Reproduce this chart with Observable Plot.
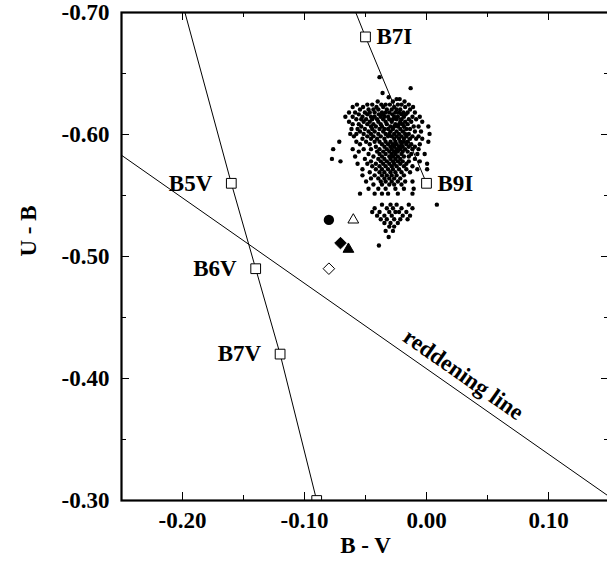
<!DOCTYPE html>
<html><head><meta charset="utf-8">
<script src="https://cdn.jsdelivr.net/npm/d3@7"></script>
<script src="https://cdn.jsdelivr.net/npm/@observablehq/plot@0.6"></script>
<style>body{margin:0;background:#fff}</style>
</head><body><div id="chart"></div>
<script>
// Cluster stars: [U-B, B-V, B-V, ...]
const clusterRows = [
  [-0.647, -0.0385],
  [-0.638, -0.013],
  [-0.634, -0.036],
  [-0.6305, -0.031],
  [-0.629, -0.022, -0.0245],
  [-0.627, -0.040, -0.0275, -0.018],
  [-0.6245, -0.057, -0.0485, -0.0445, -0.037, -0.0335, -0.030, -0.0235, -0.0205, -0.0145],
  [-0.6225, -0.0605, -0.052, -0.041, -0.0355, -0.0265, -0.0175, -0.011],
  [-0.6205, -0.0545, -0.0475, -0.0435, -0.0395, -0.0325, -0.0285, -0.0245, -0.0215, -0.0135],
  [-0.618, -0.0635, -0.0585, -0.0505, -0.0465, -0.0425, -0.0365, -0.0335, -0.0305, -0.0255, -0.0225, -0.019, -0.0155, -0.0095],
  [-0.6165, -0.0555, -0.0485, -0.039, -0.0355, -0.028, -0.0205, -0.017],
  [-0.6145, -0.0665, -0.0605, -0.0525, -0.0455, -0.0425, -0.0375, -0.0345, -0.0315, -0.0265, -0.0235, -0.0185, -0.0115, -0.0055],
  [-0.6125, -0.0575, -0.0535, -0.0495, -0.0445, -0.0405, -0.0355, -0.0305, -0.0275, -0.0245, -0.0205, -0.0145, -0.0085],
  [-0.6105, -0.0635, -0.0515, -0.0465, -0.0395, -0.0335, -0.0285, -0.0215, -0.0175, -0.0125, -0.0035],
  [-0.6085, -0.0605, -0.0555, -0.0485, -0.0435, -0.0375, -0.0325, -0.0255, -0.0225, -0.0195, -0.0155],
  [-0.6065, -0.0535, -0.0455, -0.0415, -0.0365, -0.0295, -0.0265, -0.0235, -0.0185, -0.0105, -0.0065, 0.0015],
  [-0.6045, -0.0615, -0.0565, -0.0505, -0.0445, -0.0385, -0.0345, -0.0315, -0.0275, -0.0215, -0.0165, -0.0135],
  [-0.6025, -0.0545, -0.0475, -0.0425, -0.0355, -0.0295, -0.0245, -0.0195, -0.0095, -0.0045],
  [-0.6005, -0.0625, -0.0575, -0.0515, -0.0455, -0.0395, -0.0335, -0.0305, -0.0265, -0.0225, -0.0175, -0.0145, 0.0025],
  [-0.5985, -0.0595, -0.0485, -0.0435, -0.0375, -0.0315, -0.0285, -0.0245, -0.0205, -0.0165, -0.0115, -0.0065],
  [-0.5965, -0.0525, -0.0455, -0.0405, -0.0345, -0.0265, -0.0225, -0.0185, -0.0135, -0.0085, -0.0035],
  [-0.594, -0.0715, -0.0575, -0.0495, -0.0425, -0.0385, -0.0335, -0.0295, -0.0255, -0.0215, -0.0185, -0.0155, 0.0015],
  [-0.592, -0.0545, -0.0465, -0.0365, -0.0315, -0.0275, -0.0245, -0.0205, -0.0165, -0.0125, -0.0055],
  [-0.590, -0.0415, -0.0345, -0.0295, -0.0265, -0.0225, -0.0195, -0.0145, -0.0095],
  [-0.588, -0.0765, -0.0605, -0.0515, -0.0455, -0.0385, -0.0325, -0.0285, -0.0245, -0.0215, -0.0175, -0.0115, -0.0065],
  [-0.586, -0.0555, -0.0405, -0.0355, -0.0305, -0.0265, -0.0235, -0.0195, -0.0155],
  [-0.584, -0.0475, -0.0385, -0.0335, -0.0285, -0.0255, -0.0205, -0.0125, -0.0075, -0.0015],
  [-0.582, -0.0585, -0.0435, -0.0365, -0.0305, -0.0275, -0.0235, -0.0185, -0.0145],
  [-0.580, -0.0775, -0.0505, -0.0395, -0.0345, -0.0295, -0.0255, -0.0215, -0.0095],
  [-0.578, -0.0705, -0.0455, -0.0375, -0.0325, -0.0275, -0.0235, -0.0195, -0.0145, -0.0055],
  [-0.576, -0.0565, -0.0485, -0.0415, -0.0355, -0.0305, -0.0265, -0.0215, -0.0165, 0.0005],
  [-0.574, -0.0445, -0.0385, -0.0335, -0.0285, -0.0245, -0.0185, -0.0115],
  [-0.5715, -0.0525, -0.0415, -0.0365, -0.0315, -0.0275, -0.0225, -0.0165, -0.0075, 0.0005],
  [-0.569, -0.0465, -0.0385, -0.0345, -0.0295, -0.0255, -0.0205, -0.0135],
  [-0.5665, -0.0525, -0.0425, -0.0365, -0.0325, -0.0285, -0.0245, -0.0185],
  [-0.564, -0.0455, -0.0395, -0.0345, -0.0305, -0.0265, -0.0215],
  [-0.5615, -0.0495, -0.0375, -0.0335, -0.0285, -0.0235, -0.0175, -0.0115],
  [-0.559, -0.0435, -0.0365, -0.0305, -0.0265, -0.0205],
  [-0.5555, -0.0475, -0.0395, -0.0335, -0.0255, -0.0185, -0.0105],
  [-0.5515, -0.0545, -0.0425, -0.0365, -0.0315, -0.0235, -0.0115],
  [-0.5425, -0.0365, -0.0295, -0.0245, -0.0145, 0.0085],
  [-0.5395, -0.0425, -0.0325, -0.0275, -0.0205, -0.0115],
  [-0.5365, -0.0445, -0.0385, -0.0305, -0.0255, -0.0225, -0.0165],
  [-0.5335, -0.0405, -0.0345, -0.0285, -0.0195, -0.0135],
  [-0.5305, -0.0375, -0.0325, -0.0265, -0.0215, -0.0155],
  [-0.5275, -0.0345, -0.0295, -0.0235],
  [-0.5245, -0.0305, -0.0265],
  [-0.521, -0.0335, -0.0275],
  [-0.516, -0.031],
  [-0.509, -0.039]
];

// Intrinsic-colour sequences (line vertices)
const mainSeqBV = [-0.198, -0.16, -0.14, -0.12, -0.09];
const mainSeqUB = [-0.70, -0.56, -0.49, -0.42, -0.30];
const superBV = [-0.058, -0.05, 0.00];
const superUB = [-0.70, -0.68, -0.56];
const reddenBV = [-0.25, 0.15];
const reddenUB = [-0.583, -0.303];

// Standard spectral-type points (open squares)
const stdNames = ["B5V", "B6V", "B7V", "B8V", "B7I", "B9I"];
const stdBV = [-0.16, -0.14, -0.12, -0.09, -0.05, 0.00];
const stdUB = [-0.56, -0.49, -0.42, -0.30, -0.68, -0.56];
const stdShown = [true, true, true, false, true, true];

// Individual stars with special symbols
const starSymbols = ["circle", "triangle", "diamond2", "triangle", "diamond2"];
const starFilled = [true, false, true, true, false];
const starBV = [-0.080, -0.060, -0.0705, -0.064, -0.080];
const starUB = [-0.530, -0.530, -0.511, -0.506, -0.490];

// Axis ticks
const xMajor = [-0.20, -0.10, 0.00, 0.10];
const xMinor = [-0.15, -0.05, 0.05];
const yMajor = [-0.70, -0.60, -0.50, -0.40, -0.30];
const yMinor = [-0.65, -0.55, -0.45, -0.35];

// ---- build tables ----
const cluster = clusterRows.flatMap(([ub, ...bvs]) => bvs.map(bv => ({bv, ub})));
const mainSeq = mainSeqBV.map((bv, i) => ({bv, ub: mainSeqUB[i]}));
const superSeq = superBV.map((bv, i) => ({bv, ub: superUB[i]}));
const redden = reddenBV.map((bv, i) => ({bv, ub: reddenUB[i]}));
const std = stdNames.map((name, i) => ({name, bv: stdBV[i], ub: stdUB[i], shown: stdShown[i]}));
const stars = starSymbols.map((symbol, i) => ({symbol, filled: starFilled[i], bv: starBV[i], ub: starUB[i]}));

const slope = (reddenUB[1] - reddenUB[0]) / (reddenBV[1] - reddenBV[0]);
const angle = Math.atan(slope);
const labelBV = 0.0225;
const redLabel = [{bv: labelBV, ub: reddenUB[0] + slope * (labelBV - reddenBV[0])}];
const off = 9;

const W = 607, H = 568, mL = 121, mR = -2, mT = 12, mB = 68;
const pw = W - mL - mR, ph = H - mT - mB;
const fmt = d => (Math.abs(d) < 1e-9 ? 0 : d).toFixed(2);
const font = "Liberation Serif";
const fs = 23;

const chart = Plot.plot({
  width: W, height: H,
  marginLeft: mL, marginRight: mR, marginTop: mT, marginBottom: mB,
  x: {domain: [-0.25, 0.15], axis: null},
  y: {domain: [-0.70, -0.30], reverse: true, axis: null},
  style: {fontFamily: font, fontWeight: "bold", fontSize: fs + "px", background: "white", color: "black", overflow: "visible"},
  marks: [
    // ticks (inward, all four sides)
    Plot.tickX(xMajor, {x: d => d, insetTop: ph - 8, stroke: "black"}),
    Plot.tickX(xMinor, {x: d => d, insetTop: ph - 5, stroke: "black"}),
    Plot.tickX(xMajor, {x: d => d, insetBottom: ph - 8, stroke: "black"}),
    Plot.tickX(xMinor, {x: d => d, insetBottom: ph - 5, stroke: "black"}),
    Plot.tickY(yMajor, {y: d => d, insetRight: pw - 8, stroke: "black"}),
    Plot.tickY(yMinor, {y: d => d, insetRight: pw - 5, stroke: "black"}),
    Plot.tickY(yMajor, {y: d => d, insetLeft: pw - 8, stroke: "black"}),
    Plot.tickY(yMinor, {y: d => d, insetLeft: pw - 5, stroke: "black"}),
    Plot.axisX(xMajor, {tickSize: 0, tickPadding: 11, tickFormat: fmt, label: null, fontSize: fs}),
    Plot.axisY(yMajor, {tickSize: 0, tickPadding: 12, tickFormat: fmt, label: null, fontSize: fs}),
    Plot.text(["B - V"], {text: d => d, frameAnchor: "bottom", dy: 52, fontSize: fs}),
    Plot.text(["U - B"], {text: d => d, frameAnchor: "left", dx: -93, rotate: -90, fontSize: fs}),
    // lines
    Plot.line(redden, {x: "bv", y: "ub", stroke: "black", strokeWidth: 1}),
    Plot.line(mainSeq, {x: "bv", y: "ub", stroke: "black", strokeWidth: 1}),
    Plot.line(superSeq, {x: "bv", y: "ub", stroke: "black", strokeWidth: 1}),
    Plot.text(redLabel, {x: "bv", y: "ub", text: () => "reddening line", rotate: angle * 180 / Math.PI,
      lineAnchor: "bottom", textAnchor: "middle", dx: Math.sin(angle) * off, dy: -Math.cos(angle) * off, fontSize: fs}),
    // cluster
    Plot.dot(cluster, {x: "bv", y: "ub", r: 2.2, fill: "black", stroke: "none"}),
    // standards
    Plot.dot(std, {x: "bv", y: "ub", symbol: "square", r: 5.5, fill: "white", stroke: "black", strokeWidth: 1, clip: true}),
    Plot.text(std.filter(d => d.shown && d.name.endsWith("V")), {x: "bv", y: "ub", text: "name", textAnchor: "end", dx: -19, fontSize: fs}),
    Plot.text(std.filter(d => d.shown && d.name.endsWith("I")), {x: "bv", y: "ub", text: "name", textAnchor: "start", dx: 11, fontSize: fs}),
    // special stars
    Plot.dot(stars.filter(d => d.symbol === "circle"), {x: "bv", y: "ub", symbol: "circle", r: 5.2, fill: "black", stroke: "none"}),
    Plot.dot(stars.filter(d => d.symbol === "triangle"), {x: "bv", y: "ub", symbol: "triangle", r: 4, fill: d => d.filled ? "black" : "white", stroke: "black", strokeWidth: 1}),
    Plot.dot(stars.filter(d => d.symbol === "diamond2"), {x: "bv", y: "ub", symbol: "diamond2", r: 5.2, fill: d => d.filled ? "black" : "white", stroke: "black", strokeWidth: 1}),
    Plot.frame({stroke: "black", strokeWidth: 2.2})
  ]
});
document.getElementById("chart").appendChild(chart);
</script>
</body></html>
